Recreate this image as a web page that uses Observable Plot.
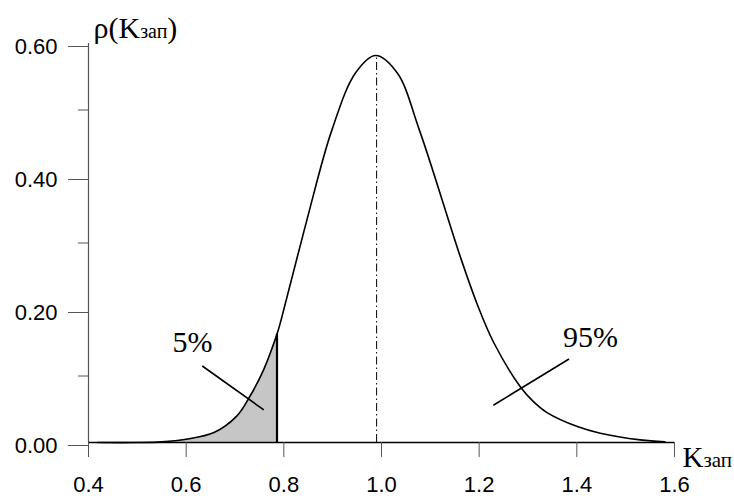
<!DOCTYPE html>
<html>
<head>
<meta charset="utf-8">
<script src="https://cdn.jsdelivr.net/npm/d3@7"></script>
<script src="https://cdn.jsdelivr.net/npm/@observablehq/plot@0.6"></script>
<style>
  html, body { margin: 0; padding: 0; background: #fff; }
</style>
</head>
<body>
<div id="chart"></div>
<script>
// Curve
const curveK   = [0.418, 0.50, 0.55, 0.60, 0.657, 0.704, 0.731, 0.759, 0.786, 0.794, 0.847, 0.898, 0.947, 0.988, 1.032, 1.078, 1.162, 1.196, 1.230, 1.285, 1.309, 1.339, 1.401, 1.448, 1.530, 1.580];
const curveRho = [0.000, 0.000, 0.001, 0.005, 0.015, 0.040, 0.070, 0.110, 0.163, 0.183, 0.334, 0.469, 0.556, 0.582, 0.556, 0.469, 0.278, 0.208, 0.150, 0.083, 0.063, 0.045, 0.024, 0.014, 0.004, 0.001];

const quantileK = 0.786;     // 5% boundary
const quantileRho = 0.163;
const modeK = 0.99;          // dash-dot line
const modeRho = 0.582;

const xTicks = [0.4, 0.6, 0.8, 1.0, 1.2, 1.4, 1.6];
const yTicks = [0.00, 0.20, 0.40, 0.60];
const yMinorTicks = [0.10, 0.30, 0.50];

const labels = ["5%", "95%"];
const labelK = [0.613, 1.428];
const labelRho = [0.136, 0.144];
const leaderK1 = [0.633, 1.384];
const leaderRho1 = [0.115, 0.1255];
const leaderK2 = [0.759, 1.229];
const leaderRho2 = [0.049, 0.056];

const curve = curveK.map((k, i) => ({k, rho: curveRho[i]}));
const shaded = curve.filter(d => d.k <= quantileK);
const annot = labels.map((t, i) => ({t, k: labelK[i], rho: labelRho[i], k1: leaderK1[i], r1: leaderRho1[i], k2: leaderK2[i], r2: leaderRho2[i]}));

const serif = "'Liberation Serif', 'Times New Roman', 'DejaVu Serif', serif";
const sans = "'Liberation Sans', Arial, sans-serif";

const chart = Plot.plot({
  width: 734,
  height: 499,
  marginLeft: 88,
  marginRight: 60,
  marginTop: 43,
  marginBottom: 57,
  style: {background: "#fff", fontFamily: sans},
  x: {domain: [0.4, 1.6]},
  y: {domain: [0, 0.6]},
  marks: [
    Plot.areaY(shaded, {x: "k", y: "rho", fill: "#c6c6c6", curve: "catmull-rom"}),
    Plot.ruleX([quantileK], {y1: 0, y2: quantileRho, stroke: "#000", strokeWidth: 2.2}),
    Plot.ruleX([modeK], {y1: 0, y2: modeRho, stroke: "#000", strokeWidth: 1, strokeDasharray: "8,3,1.5,3"}),
    Plot.lineY(curve, {x: "k", y: "rho", stroke: "#000", strokeWidth: 1.6, curve: "catmull-rom"}),
    // axes
    Plot.ruleX([0.4], {y1: 0, y2: 0.6, stroke: "#555", strokeWidth: 1.2}),
    Plot.ruleY([0], {stroke: "#000", strokeWidth: 1.4}),
    Plot.axisY({ticks: yTicks, tickSize: 20, tickPadding: 11, tickFormat: d3.format(".2f"), fontSize: 22, stroke: "#555", color: "#000", dy: 3}),
    Plot.axisY({ticks: yMinorTicks, tickSize: 10, tickFormat: () => "", stroke: "#555"}),
    Plot.axisX({ticks: xTicks, tickSize: 15, tickPadding: 19, tickFormat: d3.format(".1f"), fontSize: 22, stroke: "#555", color: "#000"}),
    // annotations
    Plot.link(annot, {x1: "k1", y1: "r1", x2: "k2", y2: "r2", stroke: "#000", strokeWidth: 1.6}),
    Plot.text(annot, {x: "k", y: "rho", text: "t", fontSize: 30, lineAnchor: "bottom", fill: "#000"}),
    // axis titles
    Plot.text(["ρ(Kзап)"], {x: 0.4, y: 0.6, text: d => d, dx: 5, dy: -6, textAnchor: "start", lineAnchor: "bottom", fontSize: 30, fill: "#000"}),
    Plot.text(["Kзап"], {x: 1.6, y: 0, text: d => d, dx: 8, dy: 24, textAnchor: "start", lineAnchor: "bottom", fontSize: 29, fill: "#000"})
  ]
});
document.getElementById("chart").appendChild(chart);

// serif fonts and subscripts
const svg = d3.select(chart);
function serifText(fullText, parts) {
  svg.selectAll("text").filter(function() { return this.textContent.trim() === fullText; })
    .each(function() {
      const t = d3.select(this).attr("font-family", serif).style("font-family", serif);
      if (parts) {
        t.text(null);
        parts.forEach(([s, size]) => {
          const sp = t.append("tspan").text(s);
          if (size) sp.attr("font-size", size);
        });
      }
    });
}
labels.forEach(l => serifText(l, [[l, null]]));
serifText("ρ(Kзап)", [["ρ(K", null], ["зап", 20], [")", null]]);
serifText("Kзап", [["K", null], ["зап", 21]]);
</script>
</body>
</html>
